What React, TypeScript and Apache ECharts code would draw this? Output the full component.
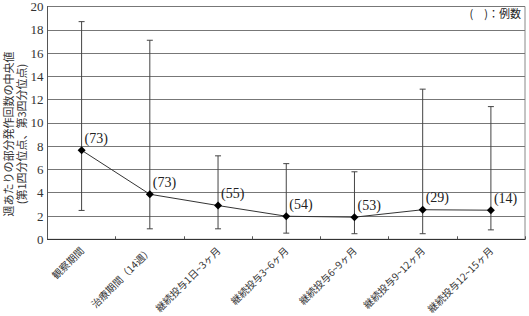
import React, { useEffect, useRef } from "react";
import * as echarts from "echarts";

const categories = [
  "観察期間",
  "治療期間（14週）",
  "継続投与1日~3ヶ月",
  "継続投与3~6ヶ月",
  "継続投与6~9ヶ月",
  "継続投与9~12ヶ月",
  "継続投与12~15ヶ月",
];
const medians = [7.65, 3.87, 2.9, 1.98, 1.9, 2.54, 2.5];
const q1 = [2.48, 0.9, 0.9, 0.53, 0.48, 0.48, 0.81];
const q3 = [18.7, 17.1, 7.17, 6.5, 5.8, 12.9, 11.4];
const counts = [73, 73, 55, 54, 53, 29, 14];
const yTicks = [0, 2, 4, 6, 8, 10, 12, 14, 16, 18, 20];

const SERIF = "'Liberation Serif', 'DejaVu Serif', 'Noto Sans CJK JP', serif";
const JP = "'Noto Sans CJK JP', sans-serif";

export default function App() {
  const ref = useRef<HTMLDivElement>(null);
  useEffect(() => {
    if (!ref.current) return;
    const chart = echarts.init(ref.current, null, { renderer: "svg" });
    const errData = categories.map((_, i) => [i, q1[i], q3[i]]);
    chart.setOption({
      animation: false,
      grid: {
        left: 47.5,
        right: 4,
        top: 5,
        bottom: 73,
        show: true,
        borderColor: "#888",
        borderWidth: 1,
      },
      graphic: [
        {
          type: "text",
          right: 8,
          top: 7,
          style: { text: "(　)：例数", font: `11px ${JP}`, fill: "#222" },
        },
        {
          type: "text",
          x: 8,
          y: 134,
          rotation: Math.PI / 2,
          style: {
            text: "週あたりの部分発作回数の中央値",
            font: `11px ${JP}`,
            fill: "#333",
            align: "center",
            verticalAlign: "middle",
          },
        },
        {
          type: "text",
          x: 21,
          y: 134,
          rotation: Math.PI / 2,
          style: {
            text: "(第1四分位点、第3四分位点)",
            font: `11px ${JP}`,
            fill: "#333",
            align: "center",
            verticalAlign: "middle",
          },
        },
      ],
      xAxis: {
        type: "category",
        data: categories,
        boundaryGap: true,
        axisLine: { lineStyle: { color: "#333", width: 1 } },
        axisTick: { show: true, inside: true, length: 3, lineStyle: { color: "#555" } },
        axisLabel: {
          rotate: 45,
          fontSize: 10,
          fontFamily: JP,
          color: "#333",
          margin: 9,
          interval: 0,
        },
      },
      yAxis: {
        type: "value",
        min: 0,
        max: 20,
        interval: 2,
        axisLine: { show: true, lineStyle: { color: "#555" } },
        axisTick: { show: false },
        axisLabel: {
          fontSize: 13,
          fontFamily: SERIF,
          color: "#333",
          margin: 4,
          formatter: (v: number) => (yTicks.includes(v) ? String(v) : ""),
        },
        splitLine: { lineStyle: { color: "#777", width: 1 } },
      },
      series: [
        {
          type: "custom",
          data: errData,
          z: 3,
          renderItem: (params: any, api: any) => {
            const x = api.value(0);
            const lo = api.coord([x, api.value(1)]);
            const hi = api.coord([x, api.value(2)]);
            const cw = 3;
            const style = { stroke: "#444", lineWidth: 1 };
            return {
              type: "group",
              children: [
                { type: "line", shape: { x1: lo[0], y1: lo[1], x2: hi[0], y2: hi[1] }, style },
                { type: "line", shape: { x1: lo[0] - cw, y1: lo[1], x2: lo[0] + cw, y2: lo[1] }, style },
                { type: "line", shape: { x1: hi[0] - cw, y1: hi[1], x2: hi[0] + cw, y2: hi[1] }, style },
              ],
            };
          },
        },
        {
          type: "line",
          data: medians,
          z: 5,
          symbol: "diamond",
          symbolSize: 8,
          itemStyle: { color: "#000" },
          lineStyle: { color: "#333", width: 1 },
          label: {
            show: true,
            position: [7, -15],
            fontSize: 14,
            fontFamily: SERIF,
            color: "#222",
            formatter: (p: any) => `(${counts[p.dataIndex]})`,
          },
        },
      ],
    });
    return () => chart.dispose();
  }, []);
  return (
    <div
      ref={ref}
      style={{ position: "absolute", left: 0, top: 0, width: 529, height: 316 }}
    />
  );
}
